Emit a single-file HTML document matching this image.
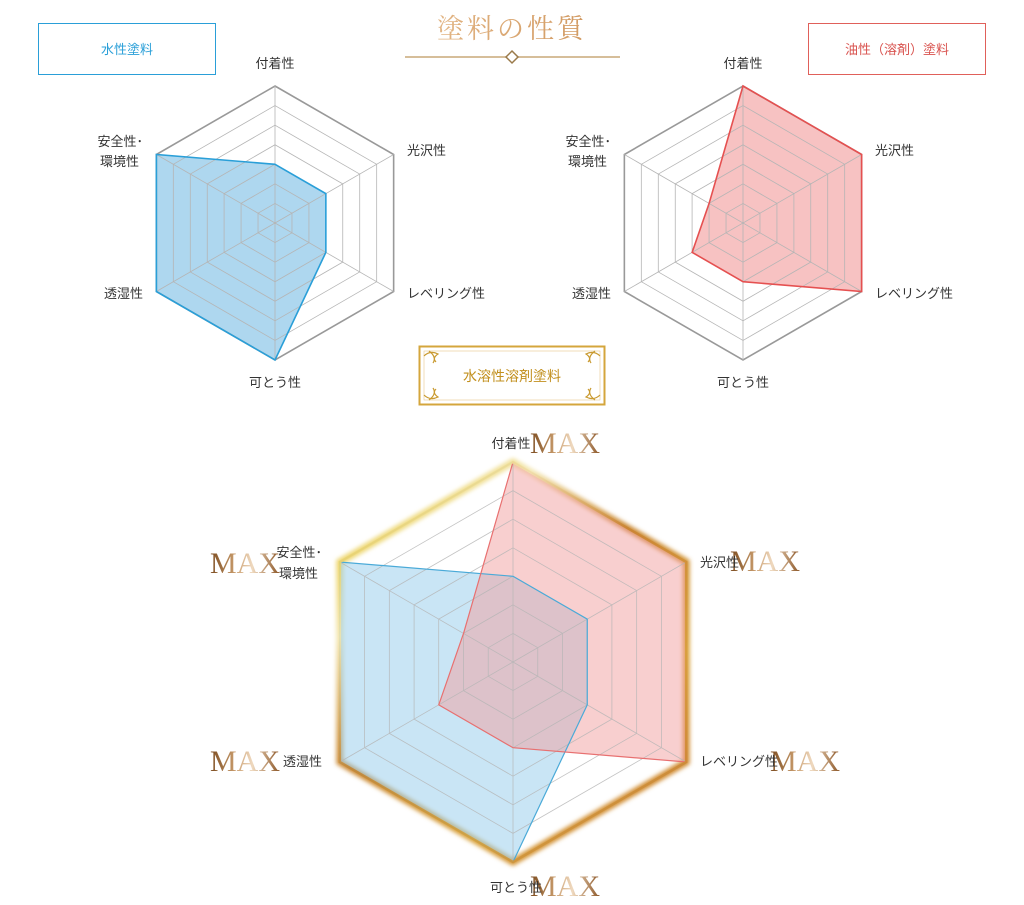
<!DOCTYPE html>
<html><head><meta charset="utf-8">
<style>
html,body{margin:0;padding:0;background:#fff;}
body{width:1024px;height:905px;position:relative;overflow:hidden;font-family:"Liberation Sans","Noto Sans CJK JP",sans-serif;}
svg{position:absolute;left:0;top:0;}
.l{font-size:13px;fill:#333;font-family:"Liberation Sans","Noto Sans CJK JP",sans-serif;}
.max{font-family:"Liberation Serif","Noto Serif CJK SC",serif;font-size:30px;}
</style></head><body>
<svg width="1024" height="905" viewBox="0 0 1024 905">
<defs>
<linearGradient id="tg" x1="0" x2="1"><stop offset="0" stop-color="#e2b584"/><stop offset="1" stop-color="#d29a62"/></linearGradient>
<linearGradient id="mg" x1="0" x2="1"><stop offset="0" stop-color="#7a4a1e"/><stop offset="0.35" stop-color="#c79a6a"/><stop offset="0.6" stop-color="#efd9bf"/><stop offset="1" stop-color="#8a5424"/></linearGradient>
<linearGradient id="gg" gradientUnits="userSpaceOnUse" x1="340" y1="462" x2="686" y2="862">
<stop offset="0" stop-color="#e6c21c"/><stop offset="0.25" stop-color="#f3e6b0"/><stop offset="0.45" stop-color="#c9852e"/><stop offset="0.7" stop-color="#d9a23a"/><stop offset="1" stop-color="#c7752c"/></linearGradient>
<filter id="bl" filterUnits="userSpaceOnUse" x="300" y="420" width="430" height="480"><feGaussianBlur stdDeviation="2"/></filter>
<g id="grid">
<polygon points="0,-1 0.866,-0.5 0.866,0.5 0,1 -0.866,0.5 -0.866,-0.5" fill="none" stroke="#999" stroke-width="1.6" vector-effect="non-scaling-stroke"/>
<g fill="none" stroke="#b5b5b5" stroke-width="0.8">
<polygon transform="scale(0.857)" vector-effect="non-scaling-stroke" points="0,-1 0.866,-0.5 0.866,0.5 0,1 -0.866,0.5 -0.866,-0.5"/>
<polygon transform="scale(0.714)" vector-effect="non-scaling-stroke" points="0,-1 0.866,-0.5 0.866,0.5 0,1 -0.866,0.5 -0.866,-0.5"/>
<polygon transform="scale(0.571)" vector-effect="non-scaling-stroke" points="0,-1 0.866,-0.5 0.866,0.5 0,1 -0.866,0.5 -0.866,-0.5"/>
<polygon transform="scale(0.429)" vector-effect="non-scaling-stroke" points="0,-1 0.866,-0.5 0.866,0.5 0,1 -0.866,0.5 -0.866,-0.5"/>
<polygon transform="scale(0.286)" vector-effect="non-scaling-stroke" points="0,-1 0.866,-0.5 0.866,0.5 0,1 -0.866,0.5 -0.866,-0.5"/>
<polygon transform="scale(0.143)" vector-effect="non-scaling-stroke" points="0,-1 0.866,-0.5 0.866,0.5 0,1 -0.866,0.5 -0.866,-0.5"/>
<path vector-effect="non-scaling-stroke" d="M0,-1L0,1M0.866,-0.5L-0.866,0.5M0.866,0.5L-0.866,-0.5"/>
</g>
</g>
</defs>

<!-- title -->
<text x="512" y="38" text-anchor="middle" font-family="'Liberation Serif','Noto Serif CJK SC',serif" font-size="27" fill="url(#tg)" letter-spacing="3">塗料の性質</text>
<line x1="405" y1="57" x2="620" y2="57" stroke="#c9a878" stroke-width="1.5"/>
<polygon points="512,51 518,57 512,63 506,57" fill="#fff" stroke="#9a7a4a" stroke-width="1.5"/>

<!-- boxes -->
<rect x="38.5" y="23.5" width="177" height="51" fill="#fff" stroke="#2a9fd8"/>
<text x="127" y="54" text-anchor="middle" font-size="13" fill="#2a9fd8">水性塗料</text>
<rect x="808.5" y="23.5" width="177" height="51" fill="#fff" stroke="#e0605a"/>
<text x="897" y="54" text-anchor="middle" font-size="13" fill="#d9534f">油性（溶剤）塗料</text>

<rect x="419.5" y="346.5" width="185" height="58" fill="#fff" stroke="#d4a63c" stroke-width="2"/>
<rect x="424" y="351" width="176" height="49" fill="none" stroke="#e6c98a" stroke-width="0.6"/>
<g stroke="#c99a30" fill="none" stroke-width="1.2">
<path d="M424,356 q6,-6 14,-2 q-6,4 -2,8 M429,351 q8,6 4,12"/>
<path d="M600,356 q-6,-6 -14,-2 q6,4 2,8 M595,351 q-8,6 -4,12"/>
<path d="M424,395 q6,6 14,2 q-6,-4 -2,-8 M429,400 q8,-6 4,-12"/>
<path d="M600,395 q-6,6 -14,2 q6,-4 2,-8 M595,400 q-8,-6 -4,-12"/>
</g>
<text x="512" y="381" text-anchor="middle" font-size="14" fill="#c2901f">水溶性溶剤塗料</text>

<!-- top-left chart -->
<g transform="translate(275,223) scale(137)">
<polygon points="0,-0.4286 0.3712,-0.2143 0.3712,0.2143 0,1 -0.866,0.5 -0.866,-0.5" fill="#8cc6e8" fill-opacity="0.7"/>
<use href="#grid"/>
<polygon points="0,-0.4286 0.3712,-0.2143 0.3712,0.2143 0,1 -0.866,0.5 -0.866,-0.5" fill="none" stroke="#2a9fd8" stroke-width="1.6" vector-effect="non-scaling-stroke"/>
</g>
<text class="l" x="275" y="68" text-anchor="middle">付着性</text>
<text class="l" x="407" y="155">光沢性</text>
<text class="l" x="407" y="298">レベリング性</text>
<text class="l" x="275" y="387" text-anchor="middle">可とう性</text>
<text class="l" x="143" y="298" text-anchor="end">透湿性</text>
<text class="l" x="143" y="146" text-anchor="end">安全性･</text>
<text class="l" x="139" y="166" text-anchor="end">環境性</text>

<!-- top-right chart -->
<g transform="translate(743,223) scale(137)">
<polygon points="0,-1 0.866,-0.5 0.866,0.5 0,0.4286 -0.3712,0.2143 -0.2474,-0.1429" fill="#f19a9a" fill-opacity="0.6"/>
<use href="#grid"/>
<polygon points="0,-1 0.866,-0.5 0.866,0.5 0,0.4286 -0.3712,0.2143 -0.2474,-0.1429" fill="none" stroke="#e55050" stroke-width="1.6" vector-effect="non-scaling-stroke"/>
</g>
<text class="l" x="743" y="68" text-anchor="middle">付着性</text>
<text class="l" x="875" y="155">光沢性</text>
<text class="l" x="875" y="298">レベリング性</text>
<text class="l" x="743" y="387" text-anchor="middle">可とう性</text>
<text class="l" x="611" y="298" text-anchor="end">透湿性</text>
<text class="l" x="611" y="146" text-anchor="end">安全性･</text>
<text class="l" x="607" y="166" text-anchor="end">環境性</text>

<!-- bottom chart -->
<polygon points="513,462 686.2,562 686.2,762 513,862 339.8,762 339.8,562" fill="none" stroke="url(#gg)" stroke-width="7" filter="url(#bl)"/>
<g transform="translate(513,662) scale(200)">
<polygon points="0,-0.4286 0.3712,-0.2143 0.3712,0.2143 0,1 -0.866,0.5 -0.866,-0.5" fill="#9ccfec" fill-opacity="0.55"/>
<polygon points="0,-1 0.866,-0.5 0.866,0.5 0,0.4286 -0.3712,0.2143 -0.2474,-0.1429" fill="#f1a0a0" fill-opacity="0.5"/>
<g opacity="0.8"><use href="#grid"/></g>
<polygon points="0,-0.4286 0.3712,-0.2143 0.3712,0.2143 0,1 -0.866,0.5 -0.866,-0.5" fill="none" stroke="#4aaad8" stroke-width="1.2" vector-effect="non-scaling-stroke"/>
<polygon points="0,-1 0.866,-0.5 0.866,0.5 0,0.4286 -0.3712,0.2143 -0.2474,-0.1429" fill="none" stroke="#e87070" stroke-width="1.2" vector-effect="non-scaling-stroke"/>
</g>
<polygon points="513,462 686.2,562 686.2,762 513,862 339.8,762 339.8,562" fill="none" stroke="url(#gg)" stroke-width="2.5" opacity="0.9"/>
<text class="max" x="530" y="453" fill="url(#mg)">MAX</text>
<text class="max" x="730" y="571" fill="url(#mg)">MAX</text>
<text class="max" x="770" y="771" fill="url(#mg)">MAX</text>
<text class="max" x="530" y="896" fill="url(#mg)">MAX</text>
<text class="max" x="210" y="573" fill="url(#mg)">MAX</text>
<text class="max" x="210" y="771" fill="url(#mg)">MAX</text>
<text class="l" x="511" y="448" text-anchor="middle">付着性</text>
<text class="l" x="700" y="567">光沢性</text>
<text class="l" x="700" y="766">レベリング性</text>
<text class="l" x="516" y="892" text-anchor="middle">可とう性</text>
<text class="l" x="322" y="766" text-anchor="end">透湿性</text>
<text class="l" x="322" y="557" text-anchor="end">安全性･</text>
<text class="l" x="318" y="578" text-anchor="end">環境性</text>
</svg>
</body></html>
